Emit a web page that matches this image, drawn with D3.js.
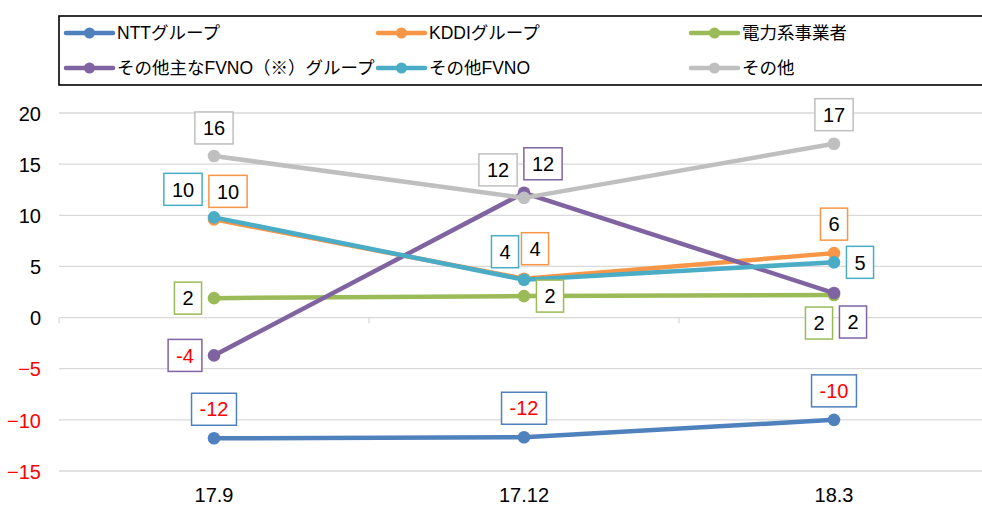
<!DOCTYPE html>
<html><head><meta charset="utf-8">
<script src="https://cdn.jsdelivr.net/npm/d3@7"></script>
<style>
html,body{margin:0;padding:0;background:#fff;}
svg{display:block;}
text{font-family:"Liberation Sans","Noto Sans CJK JP",Arial,sans-serif;}
</style></head>
<body>
<svg id="chart" width="982" height="505"></svg>
<script>
const categories = ["17.9", "17.12", "18.3"];
const seriesNames = ["NTTグループ", "KDDIグループ", "電力系事業者", "その他主なFVNO（※）グループ", "その他FVNO", "その他"];
const ntt   = [-11.8, -11.7, -10.0];
const kddi  = [9.6, 3.8, 6.3];
const denryoku = [1.9, 2.1, 2.2];
const shuFvno = [-3.7, 12.2, 2.4];
const otherFvno = [9.8, 3.7, 5.4];
const other = [15.8, 11.7, 17.0];
const yTicks = [-15, -10, -5, 0, 5, 10, 15, 20];

const colors = ["#4f81bd", "#f79646", "#9bbb59", "#8064a2", "#4bacc6", "#bfbfbf"];
// label box offsets (dx, dy) relative to each point
const labelOffsets = [
  [[0,-29],[0,-29],[0,-29]],
  [[14,-28],[11,-30],[0,-29]],
  [[-26,0],[26,0],[-15,28]],
  [[-29,0],[19,-29],[19,29]],
  [[-31,-28],[-19,-28],[26,0]],
  [[0,-28],[-26,-28],[0,-29]]
];
const values = [ntt, kddi, denryoku, shuFvno, otherFvno, other];
const series = seriesNames.map((n,i)=>({name:n, color:colors[i], values:values[i], offs:labelOffsets[i]}));

const svg = d3.select("#chart");
const x = d3.scaleBand().domain(categories).range([59, 989]);
const cx = c => x(c) + x.bandwidth()/2;
const y = d3.scaleLinear().domain([-15, 20]).range([471, 113]);

// gridlines
svg.append("g").selectAll("line").data(yTicks).join("line")
  .attr("x1", 59).attr("x2", 989)
  .attr("y1", d=>y(d)).attr("y2", d=>y(d))
  .attr("stroke", "#d9d9d9").attr("stroke-width", 1.3);

// y axis labels
const yAxis = d3.axisLeft(y).tickValues(yTicks).tickSize(0).tickPadding(0).tickFormat(d3.format("d"));
const gy = svg.append("g").attr("transform", "translate(41,0)").call(yAxis);
gy.select(".domain").remove();
gy.selectAll("text").attr("font-size", 20).attr("font-family", "Liberation Sans, Arial, sans-serif")
  .attr("fill", d => d < 0 ? "#ff0000" : "#000").attr("dy", "0.36em");

// category boundary ticks at zero line
const bounds = categories.map(c=>x(c)).concat([x(categories[categories.length-1]) + x.bandwidth()]);
svg.append("g").selectAll("line").data(bounds).join("line")
  .attr("x1", d=>d).attr("x2", d=>d).attr("y1", y(0)).attr("y2", y(0)+6)
  .attr("stroke", "#d9d9d9").attr("stroke-width", 1.3);

// x labels
svg.append("g").selectAll("text").data(categories).join("text")
  .attr("x", d=>cx(d)).attr("y", 502).attr("text-anchor", "middle")
  .attr("font-size", 20).attr("fill", "#000").text(d=>d);

// lines
const line = d3.line().x((d,i)=>cx(categories[i])).y(d=>y(d));
series.forEach(s=>{
  const g = svg.append("g");
  g.append("path").attr("d", line(s.values)).attr("fill","none")
    .attr("stroke", s.color).attr("stroke-width", 4.5).attr("stroke-linejoin","round");
  g.selectAll("circle").data(s.values).join("circle")
    .attr("cx",(d,i)=>cx(categories[i])).attr("cy", d=>y(d)).attr("r", 6.3).attr("fill", s.color);
});

// data labels
series.forEach(s=>{
  s.values.forEach((v,i)=>{
    const px = cx(categories[i]) + s.offs[i][0];
    const py = y(v) + s.offs[i][1];
    const txt = String(Math.round(v));
    const g = svg.append("g");
    const t = g.append("text").attr("x", px).attr("y", py).attr("dy","0.36em")
      .attr("text-anchor","middle").attr("font-size", 20)
      .attr("fill", v < 0 ? "#ff0000" : "#000").text(txt);
    const w = t.node().getComputedTextLength() + 16;
    g.insert("rect", "text").attr("x", px - w/2).attr("y", py - 16).attr("width", w).attr("height", 32)
      .attr("fill", "#fff").attr("stroke", s.color).attr("stroke-width", 1.5);
  });
});

// legend
svg.append("rect").attr("x", 59).attr("y", 16).attr("width", 940).attr("height", 69)
  .attr("fill", "#fff").attr("stroke", "#000").attr("stroke-width", 1.6);
const legX = [66, 378, 691], legY = [33, 68];
series.forEach((s,i)=>{
  const lx = legX[i%3], ly = legY[Math.floor(i/3)];
  const g = svg.append("g");
  g.append("line").attr("x1", lx).attr("x2", lx+47).attr("y1", ly).attr("y2", ly)
    .attr("stroke", s.color).attr("stroke-width", 4.5).attr("stroke-linecap","round");
  g.append("circle").attr("cx", lx+23.5).attr("cy", ly).attr("r", 5.5).attr("fill", s.color);
  g.append("text").attr("x", lx+51).attr("y", ly).attr("dy","0.36em")
    .attr("font-size", 17.5).attr("fill","#000").text(s.name);
});
</script>
</body></html>
